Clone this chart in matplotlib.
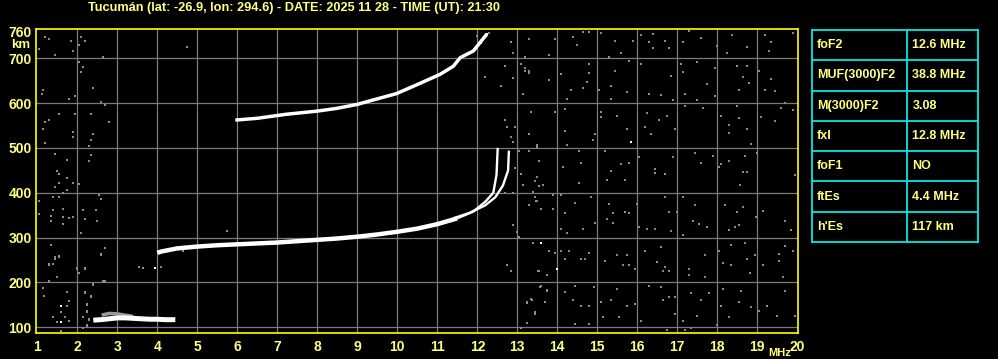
import matplotlib
matplotlib.use('Agg')
import matplotlib.pyplot as plt

# Cabecalho e tabela de parametros
titulo = 'Tucumán (lat: -26.9, lon: 294.6) - DATE: 2025 11 28 - TIME (UT): 21:30'
parametros = ['foF2', 'MUF(3000)F2', 'M(3000)F2', 'fxI', 'foF1', 'ftEs', "h'Es"]
valores = ['12.6 MHz', '38.8 MHz', '3.08', '12.8 MHz', 'NO', '4.4 MHz', '117 km']

# Eixos
freq_ticks = list(range(1, 21))
alt_ticks = [100, 200, 300, 400, 500, 600, 700, 760]

# Traco Es
es_f = [2.4, 2.6, 2.8, 3.0, 3.2, 3.4, 3.6, 3.8, 4.0, 4.2, 4.45]
es_h = [116, 117, 119, 121, 121, 120, 119, 118, 118, 117, 117]
es_sombra_f = [2.65, 2.8, 3.0, 3.2, 3.35]
es_sombra_h = [128, 131, 130, 127, 125]

# Traco F (modo O), parte espessa e cuspide
f_o_f = [4.0, 4.1, 4.5, 5.0, 5.5, 6.0, 6.5, 7.0, 7.5, 8.0, 8.5, 9.0, 9.5, 10.0, 10.5, 11.0, 11.5]
f_o_h = [266, 269, 276, 280, 283, 285, 287, 289, 292, 295, 298, 302, 307, 313, 320, 330, 343]
cusp_o_f = [11.5, 11.9, 12.2, 12.4, 12.48, 12.51]
cusp_o_h = [343, 358, 380, 400, 440, 500]

# Traco F (modo X)
f_x_f = [11.4, 11.8, 12.2, 12.45, 12.64, 12.77, 12.79]
f_x_h = [343, 355, 372, 390, 416, 450, 494]

# Segundo salto 2F
f2_f = [5.95, 6.5, 7.23, 8.0, 8.48, 9.0, 9.32, 9.98, 10.57, 11.07, 11.4, 11.57, 11.9, 12.07, 12.24]
f2_h = [562, 566, 575, 582, 588, 597, 605, 621, 644, 664, 682, 701, 716, 735, 754]

# Ruido (pontos cinza)
ruido_f = [13.28, 13.95, 14.39, 14.49, 14.65, 14.8, 15.09, 15.45, 15.6, 15.9, 16.09, 16.3, 16.4, 16.4,
           16.69, 16.79, 17.14, 17.29, 17.59, 17.99, 18.24, 18.37, 18.74, 19.2, 19.34, 19.29, 19.89,
           13.19, 13.8, 15.3, 13.2, 13.3, 13.8, 14.1, 14.24, 14.34, 14.64, 14.74, 14.79, 14.8, 15.04,
           15.34, 15.45, 15.35, 15.75, 15.8, 16.1, 16.3, 16.6, 16.85, 16.9, 17.1, 17.15, 17.2, 17.5,
           17.5, 17.75, 17.95, 17.95, 18.5, 18.65, 18.75, 18.55, 18.8, 19.05, 19.2, 19.34, 19.45, 19.7,
           13.35, 13.95, 14.2, 15.09, 15.09, 15.5, 15.75, 14.95, 13.3, 14.2, 16.24, 16.54, 16.74, 16.2,
           16.34, 16.94, 17.2, 17.64, 18.1, 18.3, 18.3, 18.5, 18.55, 18.75, 18.85, 19.1, 19.45, 19.6,
           19.9, 13.49, 14.25, 14.55, 14.9, 15.2, 15.6, 15.8, 16.05, 16.45, 16.7, 16.9, 17.45, 17.6,
           17.9, 18.1, 18.3, 18.7, 18.75, 19.0, 19.94, 13.55, 14.15, 14.6, 15.35, 16.45, 18.05, 18.65,
           13.45, 13.55, 13.65, 14.55, 15.24, 15.7, 18.57, 13.9, 14.1, 14.85, 15.29, 15.4, 15.7, 15.8,
           15.99, 16.7, 16.8, 16.99, 17.15, 17.44, 17.55, 17.4, 18.2, 18.5, 18.65, 18.97, 19.15, 19.7,
           19.84, 13.3, 13.47, 13.6, 13.9, 14.2, 14.45, 14.1, 14.25, 14.64, 14.94, 15.25, 15.4, 16.05,
           16.24, 16.45, 16.85, 17.15, 17.74, 18.3, 18.45, 18.55, 13.4, 13.8, 13.95, 14.1, 14.3, 14.2,
           14.6, 14.7, 14.8, 15.2, 15.5, 15.75, 15.65, 15.8, 15.95, 16.2, 16.6, 16.5, 16.7, 16.8, 16.65,
           17.29, 17.29, 17.7, 17.7, 18.04, 18.14, 18.34, 18.34, 18.7, 18.75, 18.82, 18.95, 19.15, 19.55,
           19.55, 19.7, 19.65, 19.9, 13.54, 13.75, 13.6, 13.35, 13.25, 13.45, 13.75, 14.2, 14.45, 14.4,
           14.6, 14.8, 14.92, 15.1, 15.15, 15.34, 15.5, 15.55, 15.75, 15.95, 16.1, 16.3, 16.6, 16.65,
           16.8, 16.95, 16.95, 17.15, 17.35, 17.5, 17.6, 17.8, 18.1, 18.14, 18.3, 18.55, 18.6, 18.85,
           19.05, 19.25, 19.5, 19.94, 19.7, 14.45, 14.8, 17.35, 18.0, 13.1, 16.75, 17.2,
           1.19, 1.3, 1.84, 1.88, 1.43, 1.03, 2.09, 2.2, 2.03, 2.63, 2.03, 2.13, 2.09, 1.13, 1.12, 1.78,
           1.94, 2.38, 2.59, 2.68, 1.53, 1.3, 1.19, 1.13, 1.95, 1.88, 1.88, 2.34, 2.78, 2.38, 2.34, 1.18,
           2.28, 1.43, 1.74, 1.49, 1.55, 2.34, 2.28, 1.74, 1.88, 2.03, 1.55, 1.45, 1.74, 1.63, 1.38, 1.53,
           1.03, 2.53, 2.59, 1.38, 1.63, 1.34, 1.34, 1.63, 1.78, 1.88, 1.63, 2.13, 2.19, 2.47, 2.48, 1.03,
           2.08, 1.34, 2.7, 2.59, 1.55, 1.43, 1.3, 1.38, 1.99, 2.18, 2.03, 1.48, 1.3, 2.68, 1.13, 1.16,
           1.74, 2.19, 2.34, 2.38, 1.78, 1.74, 2.23, 2.23, 2.13, 1.38, 1.49, 1.68, 1.8, 1.6, 2.3, 2.23,
           1.59, 2.13, 1.44, 1.55, 2.59, 1.3, 1.98, 2.03, 2.2, 2.65, 3.55, 3.63, 4.08, 4.63, 2.38, 2.19,
           2.33, 2.23, 2.25, 2.15, 2.25, 2.13, 2.3, 12.88, 12.98, 13.03, 12.73, 12.83, 13.4, 13.52,
           13.57, 13.23, 13.36, 13.44, 13.23, 13.69, 13.73, 5.73, 11.98, 11.97, 12.28, 12.83, 12.88,
           13.28, 13.08, 13.19, 13.28, 12.68, 12.19, 12.58, 12.88, 13.13, 13.33, 12.68, 12.73, 12.94,
           12.83, 12.88, 13.48, 13.03, 13.28, 12.94, 13.09, 13.48, 13.44, 13.53, 13.13, 13.4, 13.44,
           13.5, 13.28, 12.88, 12.68, 12.88, 13.0, 13.03, 4.73]
ruido_h = [743, 743, 748, 730, 758, 758, 757, 739, 712, 739, 752, 736, 754, 723,
           739, 723, 736, 761, 746, 728, 712, 752, 726, 752, 737, 715, 757,
           703, 708, 703, 677, 671, 652, 665, 610, 630, 634, 648, 686, 667, 629,
           639, 671, 608, 625, 693, 686, 621, 617, 661, 606, 688, 670, 620, 691,
           606, 643, 616, 677, 683, 659, 683, 630, 645, 671, 630, 654, 626, 601,
           580, 581, 586, 581, 568, 572, 541, 531, 531, 537, 577, 563, 572, 546,
           532, 541, 594, 589, 572, 550, 534, 594, 566, 541, 509, 568, 559, 588,
           585, 506, 506, 494, 517, 492, 465, 466, 479, 454, 441, 479, 488, 466,
           483, 463, 470, 483, 446, 488, 439, 470, 457, 466, 448, 443, 457, 446,
           426, 416, 417, 421, 428, 428, 418, 396, 395, 390, 374, 355, 358, 355,
           374, 390, 358, 358, 390, 373, 330, 337, 373, 358, 368, 346, 359, 337,
           317, 373, 381, 364, 364, 355, 377, 319, 310, 319, 333, 341, 333, 324,
           319, 319, 315, 306, 324, 317, 324, 328, 288, 270, 266, 270, 270, 253,
           253, 253, 266, 248, 261, 261, 239, 239, 230, 270, 279, 245, 235, 226, 226,
           230, 217, 261, 213, 270, 244, 239, 284, 288, 253, 221, 261, 239, 248,
           263, 281, 213, 270, 226, 217, 191, 164, 155, 130, 181, 179, 192, 161,
           148, 148, 190, 157, 124, 161, 186, 124, 148, 153, 113, 192, 190, 161,
           168, 168, 130, 113, 177, 126, 161, 177, 148, 186, 124, 157, 181, 146,
           137, 148, 126, 126, 181, 108, 108, 99, 106, 99, 95, 95,
           747, 743, 738, 716, 707, 721, 747, 738, 729, 703, 692, 681, 670, 629, 621, 609,
           616, 633, 602, 595, 576, 563, 558, 541, 576, 535, 524, 576, 558, 531, 518, 511,
           505, 486, 472, 448, 442, 485, 470, 433, 422, 420, 421, 413, 405, 400, 391, 391,
           381, 396, 386, 361, 364, 348, 338, 346, 343, 347, 330, 361, 341, 361, 337, 352,
           311, 284, 276, 263, 257, 252, 241, 241, 232, 232, 222, 212, 204, 204, 187, 170,
           178, 178, 170, 196, 159, 148, 153, 137, 122, 122, 111, 122, 115, 135, 118, 104,
           91, 98, 257, 258, 261, 238, 230, 221, 230, 204, 235, 233, 235, 270, 195, 177,
           168, 150, 135, 124, 105, 98, 116, 327, 312, 301, 240, 226, 288, 226,
           190, 157, 161, 135, 109, 157, 183, 315, 750, 724, 757, 737, 712,
           742, 687, 672, 668, 682, 659, 638, 655, 620, 579, 562, 547, 546,
           524, 513, 503, 494, 494, 455, 442, 436, 427, 414, 417, 401, 390,
           381, 373, 399, 399, 327, 313, 301, 724]

# Pontos brancos isolados
brancos_f = [15.85, 13.59, 13.99, 1.59, 1.59, 3.93, 12.08, 12.23]
brancos_h = [514, 287, 230, 148, 111, 233, 733, 753]

amarelo = '#ffff80'
plt.rcParams['font.family'] = ['Liberation Sans', 'DejaVu Sans']
plt.rcParams['font.weight'] = 'bold'

fig = plt.figure(figsize=(9.98, 3.59), dpi=100, facecolor='black')
ax = fig.add_axes([0.0358, 0.0733, 0.7633, 0.8451], facecolor='black')

# Grade
for f in freq_ticks[1:-1]:
    ax.axvline(f, color='#7a7a7a', lw=0.9, zorder=1)
for h in alt_ticks[:-1]:
    ax.axhline(h, color='#7a7a7a', lw=0.9, zorder=1)

# Ruido
ax.plot(ruido_f, ruido_h, 's', color='#8c8c8c', markersize=1.9, markeredgewidth=0, zorder=2)
ax.plot(brancos_f, brancos_h, 's', color='white', markersize=2.0, markeredgewidth=0, zorder=3)

# Tracos
ax.plot(es_sombra_f, es_sombra_h, color='#9a9a9a', lw=2.5, zorder=3)
ax.plot(es_f, es_h, color='white', lw=3.6, solid_capstyle='butt', zorder=4)
ax.plot(f_o_f, f_o_h, color='white', lw=3.2, solid_capstyle='butt', zorder=4)
ax.plot(cusp_o_f, cusp_o_h, color='white', lw=1.7, solid_capstyle='butt', zorder=4)
ax.plot(f_x_f, f_x_h, color='white', lw=1.7, solid_capstyle='butt', zorder=4)
ax.plot(f2_f, f2_h, color='white', lw=2.5, solid_capstyle='butt', zorder=4)

ax.set_xlim(0.96, 20.005)
ax.set_ylim(88, 764.4)
ax.set_xticks(freq_ticks)
ax.set_yticks(alt_ticks)
ax.set_xticklabels([str(f) for f in freq_ticks])
ax.set_yticklabels([str(h) for h in alt_ticks])
ax.tick_params(length=0, colors=amarelo, labelsize=10, pad=3)
ax.tick_params(axis='x', pad=5)
for s in ax.spines.values():
    s.set_color('#ffff00')
    s.set_linewidth(1.2)

fig.text(21 / 998, 1 - 45 / 359, 'km', color=amarelo, fontsize=9.5,
         ha='center', va='center')
fig.text(780 / 998, 1 - 353 / 359, 'MHz', color=amarelo, fontsize=8,
         ha='center', va='center')
fig.text(0.295, 1 - 7.5 / 359, titulo, color=amarelo, fontsize=9.2,
         ha='center', va='center')

# Tabela de parametros
tab = fig.add_axes([812 / 998, 1 - 242 / 359, 166 / 998, 212 / 359], facecolor='black')
tab.set_xlim(0, 1)
tab.set_ylim(0, len(parametros))
tab.axis('off')
ciano = '#00e8e8'
for i in range(len(parametros) + 1):
    tab.plot([0, 1], [i, i], color=ciano, lw=1.3, clip_on=False)
for x in [0, 0.572, 1]:
    tab.plot([x, x], [0, len(parametros)], color=ciano, lw=1.3, clip_on=False)
for i, (p, v) in enumerate(zip(parametros, valores)):
    y = len(parametros) - i - 0.5
    tab.text(0.03, y, p, color=amarelo, fontsize=9, ha='left', va='center')
    tab.text(0.605, y, v, color=amarelo, fontsize=9, ha='left', va='center')

fig.savefig('out.png', dpi=100, facecolor='black')
